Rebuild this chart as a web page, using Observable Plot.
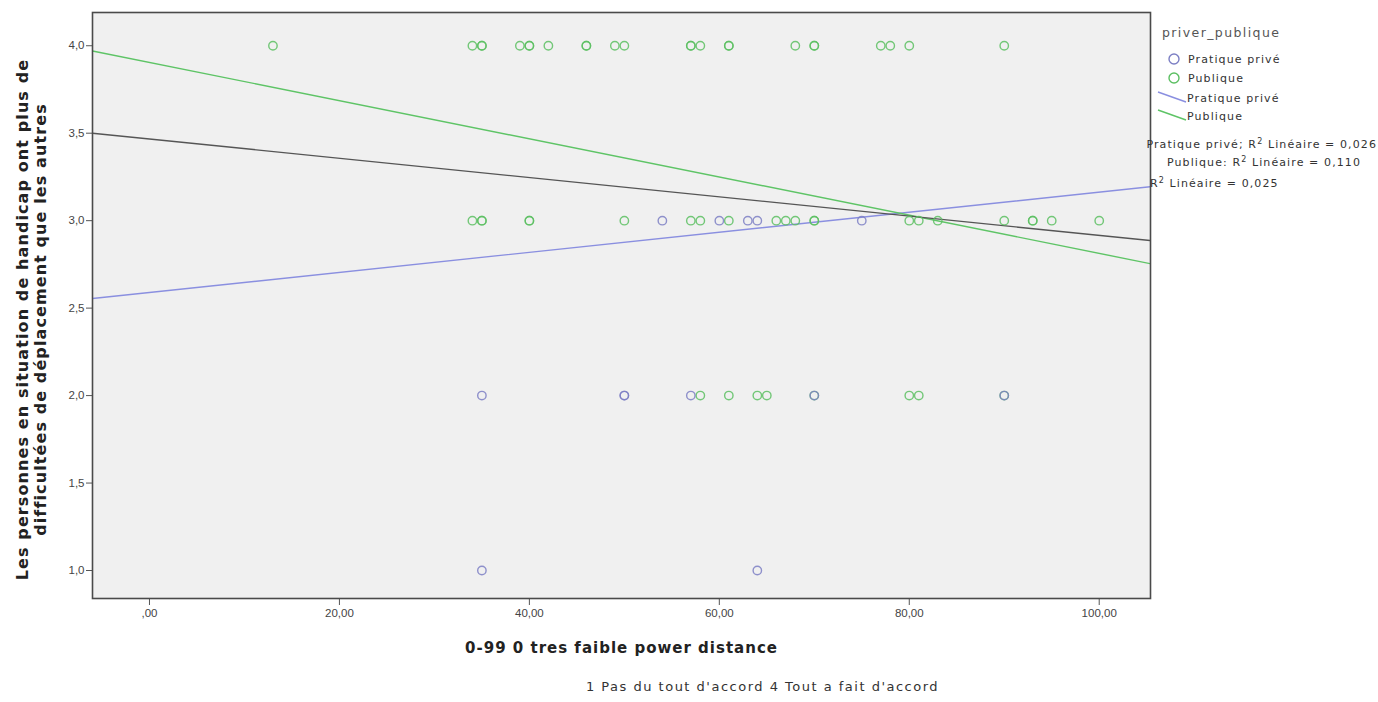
<!DOCTYPE html>
<html>
<head>
<meta charset="utf-8">
<script src="https://cdn.jsdelivr.net/npm/d3@7"></script>
<script src="https://cdn.jsdelivr.net/npm/@observablehq/plot@0.6"></script>
<style>
  html, body { margin: 0; padding: 0; background: #ffffff; }
  #chart { position: relative; width: 1378px; height: 702px; }
  svg { font-family: "Liberation Sans", Arial, sans-serif; }
</style>
</head>
<body>
<div id="chart"></div>
<script>
// ---- data ----
const groups = ["Pratique privé", "Publique"];
const groupColors = ["#7c7fc4", "#5cbf62"];

// Publique points (x = power distance, y = agreement 1..4)
const publiqueX = [13,34,35,35,39,40,40,42,46,46,49,50,57,57,58,61,61,68,70,70,77,78,80,90,
                   34,35,35,40,40,50,57,58,61,66,67,68,70,70,80,81,83,90,93,93,95,100,
                   58,61,64,65,70,80,81,90];
const publiqueY = [4,4,4,4,4,4,4,4,4,4,4,4,4,4,4,4,4,4,4,4,4,4,4,4,
                   3,3,3,3,3,3,3,3,3,3,3,3,3,3,3,3,3,3,3,3,3,3,
                   2,2,2,2,2,2,2,2];
// Pratique privé points
const priveX = [54,60,63,64,75, 35,50,50,57,70,90, 35,64];
const priveY = [3,3,3,3,3, 2,2,2,2,2,2, 1,1];

// Fit lines: values read at the left and right edges of the axis range
const fitNames = ["Pratique privé", "Publique", "Total"];
const fitColors = ["#8a8fe0", "#5ec466", "#555555"];
const fitXStart = -6;
const fitXEnd = 105.4;
const fitYStart = [2.555, 3.97, 3.50];
const fitYEnd = [3.194, 2.754, 2.886];

const xTicks = [0, 20, 40, 60, 80, 100];
const yTicks = [1.0, 1.5, 2.0, 2.5, 3.0, 3.5, 4.0];

const xLabel = "0-99 0 tres faible power distance";
const yLabel1 = "Les personnes en situation de handicap ont plus de";
const yLabel2 = "difficultées de déplacement que les autres";
const caption = "1 Pas du tout d'accord 4 Tout a fait d'accord";
const legendTitle = "priver_publique";
const r2Lines = [
  ["Pratique privé; R", " Linéaire = 0,026"],
  ["Publique: R", " Linéaire = 0,110"],
  ["R", " Linéaire = 0,025"]
];

// ---- build tables ----
const points = [
  ...publiqueX.map((x, i) => ({x, y: publiqueY[i], g: "Publique"})),
  ...priveX.map((x, i) => ({x, y: priveY[i], g: "Pratique privé"}))
];
const fitLines = fitNames.flatMap((name, i) => [
  {name, x: fitXStart, y: fitYStart[i]},
  {name, x: fitXEnd, y: fitYEnd[i]}
]);

const fmtX = d => d === 0 ? ",00" : d3.format(".2f")(d).replace(".", ",");
const fmtY = d => d3.format(".1f")(d).replace(".", ",");
const wide = "DejaVu Sans, Verdana, sans-serif";

const chart = Plot.plot({
  width: 1378,
  height: 702,
  marginLeft: 92,
  marginRight: 228,
  marginTop: 12,
  marginBottom: 104,
  style: {fontFamily: "Liberation Sans, Arial, sans-serif", background: "#ffffff"},
  x: {domain: [-6, 105.4]},
  y: {domain: [0.84, 4.19]},
  marks: [
    Plot.frame({fill: "#f0f0f0", stroke: null}),
    Plot.axisX({ticks: xTicks, tickFormat: fmtX, tickSize: 7, tickPadding: 3, fontSize: 11.5,
                stroke: "#555", fill: "#444", label: null}),
    Plot.axisY({ticks: yTicks, tickFormat: fmtY, tickSize: 6, tickPadding: 2, fontSize: 11.5,
                stroke: "#555", fill: "#444", label: null}),
    Plot.line(fitLines, {x: "x", y: "y", z: "name", stroke: d => fitColors[fitNames.indexOf(d.name)],
                         strokeWidth: 1.4, clip: true}),
    Plot.dot(points, {x: "x", y: "y", r: 4.2, strokeWidth: 1.4, fill: "none",
                      stroke: d => groupColors[groups.indexOf(d.g)], strokeOpacity: 0.85}),
    Plot.frame({stroke: "#4a4a4a", strokeWidth: 1.6}),
    Plot.text([xLabel], {frameAnchor: "bottom", dy: 54, fontSize: 15, fontWeight: "bold", fill: "#222",
                         fontFamily: wide}),
    Plot.text([caption], {frameAnchor: "bottom", dx: 141, dy: 92, fontSize: 13, fill: "#333",
                          fontFamily: wide}),
    Plot.text([yLabel1], {frameAnchor: "left", dx: -70, dy: 14, rotate: -90, textAnchor: "middle", fontSize: 16,
                          fontWeight: "bold", fill: "#222", fontFamily: wide}),
    Plot.text([yLabel2], {frameAnchor: "left", dx: -52, dy: 14, rotate: -90, textAnchor: "middle", fontSize: 16,
                          fontWeight: "bold", fill: "#222", fontFamily: wide})
  ]
});
document.getElementById("chart").appendChild(chart);

// letter spacing to match the wide rendering of the original
const spacing = new Map([[xLabel, "1px"], [caption, "1.5px"], [yLabel1, "1.1px"], [yLabel2, "1.1px"]]);
d3.select(chart).selectAll("text").each(function() {
  const s = spacing.get(this.textContent);
  if (s) this.setAttribute("letter-spacing", s);
});

// ---- legend (SPSS-style, right of the frame) ----
const svg = d3.select(chart);
const lg = svg.append("g").attr("font-size", 11).attr("fill", "#333").attr("text-anchor", "start")
  .attr("font-family", wide).attr("letter-spacing", "1.1px");
lg.append("text").attr("x", 1162).attr("y", 37).attr("font-size", 12.5).attr("fill", "#555")
  .attr("letter-spacing", "1.4px").text(legendTitle);
groups.forEach((g, i) => {
  const cy = 59 + i * 19;
  lg.append("circle").attr("cx", 1174).attr("cy", cy).attr("r", 5).attr("fill", "none")
    .attr("stroke", groupColors[i]).attr("stroke-width", 1.4);
  lg.append("text").attr("x", 1188).attr("y", cy + 4).text(g);
});
groups.forEach((g, i) => {
  const y0 = 92 + i * 18;
  lg.append("line").attr("x1", 1158).attr("y1", y0).attr("x2", 1186).attr("y2", y0 + 10)
    .attr("stroke", fitColors[i]).attr("stroke-width", 1.4);
  lg.append("text").attr("x", 1187).attr("y", y0 + 10).text(g);
});
const r2Pos = [{x: 1377, y: 148, a: "end"}, {x: 1264, y: 166, a: "middle"}, {x: 1150, y: 187, a: "start"}];
r2Lines.forEach((parts, i) => {
  const t = lg.append("text").attr("x", r2Pos[i].x).attr("y", r2Pos[i].y).attr("text-anchor", r2Pos[i].a);
  t.append("tspan").text(parts[0]);
  t.append("tspan").attr("dy", -4).attr("font-size", 8).text("2");
  t.append("tspan").attr("dy", 4).text(parts[1]);
});
</script>
</body>
</html>
